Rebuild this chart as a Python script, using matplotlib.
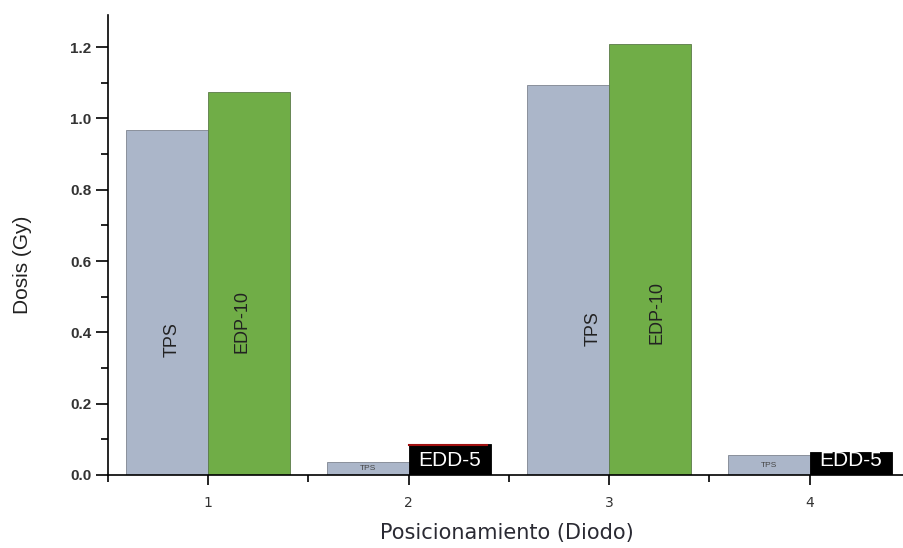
import matplotlib.pyplot as plt
from matplotlib.ticker import MultipleLocator

positions = [1, 2, 3, 4]
tpsValues = [0.967, 0.036, 1.093, 0.056]
diodeValues = [1.074, 0.087, 1.208, 0.064]
diodeNames = ["EDP-10", "EDD-5", "EDP-10", "EDD-5"]

# where the rotated labels sit inside the tall bars
tpsLabelX = [-0.18, 0, -0.08, 0]
tpsLabelY = [0.38, 0, 0.41, 0]
diodeLabelX = [0.17, 0, 0.24, 0]
diodeLabelY = [0.43, 0, 0.455, 0]

tpsColor = "#abb6c9"
greenColor = "#70ad47"
barWidth = 0.41

fig = plt.figure(figsize=(9.04, 5.48), dpi=100)
ax = fig.add_axes([108 / 904, 73 / 548, 802 / 904, 460 / 548])

for i, pos in enumerate(positions):
    tps = tpsValues[i]
    diode = diodeValues[i]
    name = diodeNames[i]
    ax.bar(pos - barWidth / 2, tps, width=barWidth, color=tpsColor,
           edgecolor="#7f8590", linewidth=0.6)
    if name == "EDP-10":
        ax.bar(pos + barWidth / 2, diode, width=barWidth, color=greenColor,
               edgecolor="#5a7a48", linewidth=0.6)
        ax.text(pos + tpsLabelX[i], tpsLabelY[i], "TPS", rotation=90,
                ha="center", va="center", fontsize=13, color="#222222",
                family="Liberation Sans")
        ax.text(pos + diodeLabelX[i], diodeLabelY[i], name, rotation=90,
                ha="center", va="center", fontsize=13, color="#222222",
                family="Liberation Sans")
    else:
        ax.bar(pos + barWidth / 2, diode, width=barWidth, color="black",
               edgecolor="black", linewidth=0.6)
        if diode > 0.08:
            ax.plot([pos, pos + barWidth * 0.95], [diode - 0.002] * 2,
                    color="#a01010", linewidth=1.5)
        ax.text(pos - barWidth / 2, tps / 2, "TPS", ha="center", va="center",
                fontsize=6, color="#444444", family="Liberation Sans")
        ax.text(pos + barWidth / 2, 0.04, name, ha="center", va="center",
                fontsize=15, color="white", family="Liberation Sans")

ax.set_xlim(0.5, 4.5)
ax.set_ylim(0, 1.29)
ax.set_xticks(positions)
ax.xaxis.set_minor_locator(MultipleLocator(0.5))
ax.yaxis.set_major_locator(MultipleLocator(0.2))
ax.yaxis.set_minor_locator(MultipleLocator(0.1))
ax.yaxis.set_major_formatter(plt.FormatStrFormatter("%.1f"))

ax.spines["top"].set_visible(False)
ax.spines["right"].set_visible(False)
ax.spines["left"].set_linewidth(1.2)
ax.spines["bottom"].set_linewidth(1.2)
ax.tick_params(which="major", width=1.2, labelcolor="#333333")
ax.tick_params(axis="y", which="major", length=9, pad=3, labelsize=11)
ax.tick_params(axis="x", which="major", length=7, pad=8, labelsize=10)
ax.tick_params(which="minor", length=5, width=1.2)
for label in ax.get_yticklabels():
    label.set_fontweight("bold")
    label.set_family("Liberation Sans")

ax.set_ylabel("Dosis (Gy)", fontsize=15, family="Liberation Sans",
              color="#222222")
ax.yaxis.set_label_coords(-(108 - 32) / 802, 0.457)
ax.set_xlabel("Posicionamiento (Diodo)", fontsize=15, family="DejaVu Sans",
              color="#2a2a33")
ax.xaxis.set_label_coords((507 - 108) / 802, -(523 - 475) / 460)

fig.savefig("out.png", dpi=100)
